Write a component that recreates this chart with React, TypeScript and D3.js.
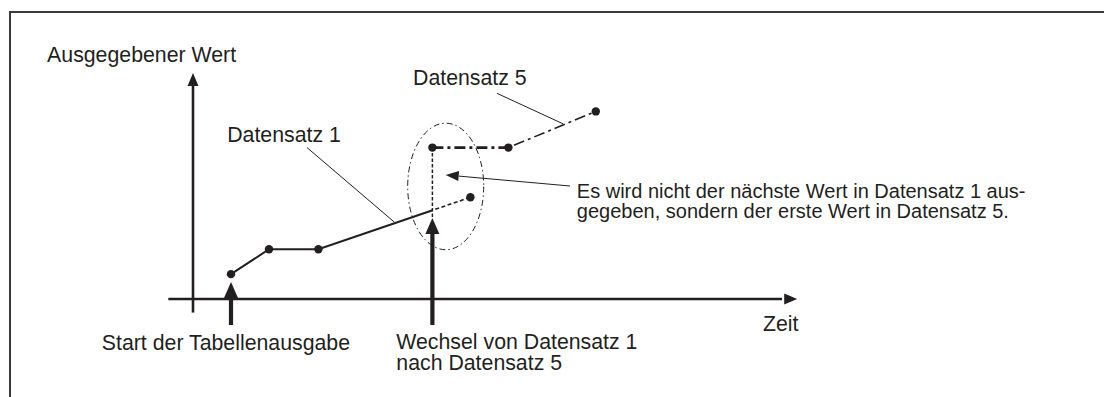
import * as d3 from "d3";
import { useRef, useEffect } from "react";

// Zeitachse (t) und Wertachse (v) in willkürlichen Einheiten
const datensatz1 = [
  { t: 1.0, v: 1.1 },
  { t: 2.0, v: 2.2 },
  { t: 3.3, v: 2.2 },
  { t: 7.3, v: 4.5 },
];
const datensatz5 = [
  { t: 6.3, v: 6.7 },
  { t: 8.3, v: 6.7 },
  { t: 10.6, v: 8.3 },
];
const switchTime = 6.3;
const bigArrows = [
  { t: 1.0, tip: 0.75, base: -1.15 },
  { t: 6.3, tip: 3.58, base: -1.15 },
];
const labels = [
  { text: ["Ausgegebener Wert"], t: -3.84, v: 10.5, size: 21.3 },
  { text: ["Datensatz 1"], t: 0.9, v: 6.95, size: 21.3 },
  { text: ["Datensatz 5"], t: 5.79, v: 9.47, size: 21.3 },
  {
    text: [
      "Es wird nicht der nächste Wert in Datensatz 1 aus-",
      "gegeben, sondern der erste Wert in Datensatz 5.",
    ],
    t: 10.1,
    v: 4.47,
    size: 20,
  },
  { text: ["Zeit"], t: 15.0, v: -1.4, size: 21.3 },
  { text: ["Start der Tabellenausgabe"], t: -2.4, v: -2.25, size: 21.3 },
  { text: ["Wechsel von Datensatz 1", "nach Datensatz 5"], t: 5.35, v: -2.22, size: 21.3 },
];
const leaders = [
  { from: { t: 3.0, v: 6.7 }, to: { t: 5.3, v: 3.4 } },
  { from: { t: 8.0, v: 9.1 }, to: { t: 9.74, v: 7.75 } },
];
const noteArrow = { from: { t: 9.92, v: 5.0 }, to: { t: 6.65, v: 5.49 } };
const ellipse = { t: 6.65, v: 4.98, rt: 1.0, rv: 2.8 };

export default function App() {
  const svgRef = useRef(null);
  const width = 1104;
  const height = 397;

  useEffect(() => {
    const svg = d3.select(svgRef.current);
    svg.selectAll("*").remove();
    const ink = "#231f20";

    const x = d3.scaleLinear().domain([0, 16]).range([193, 801]);
    const y = d3.scaleLinear().domain([0, 10]).range([299, 73]);

    // Rahmen
    svg.append("path")
      .attr("d", `M10,${height} L10,12 L${width},12`)
      .attr("fill", "none")
      .attr("stroke", "#3a3a3a")
      .attr("stroke-width", 2);

    const defs = svg.append("defs");
    defs.append("clipPath").attr("id", "before")
      .append("rect").attr("x", 0).attr("y", 0).attr("width", x(switchTime)).attr("height", height);
    defs.append("clipPath").attr("id", "after")
      .append("rect").attr("x", x(switchTime)).attr("y", 0).attr("width", width).attr("height", height);

    // Achsen
    svg.append("line")
      .attr("x1", x(-0.65)).attr("x2", x(15.5))
      .attr("y1", y(0)).attr("y2", y(0))
      .attr("stroke", ink).attr("stroke-width", 2.6);
    svg.append("path")
      .attr("d", `M${x(15.9)},${y(0)} L${x(15.9) - 13},${y(0) - 5.5} L${x(15.9) - 13},${y(0) + 5.5}Z`)
      .attr("fill", ink);
    svg.append("line")
      .attr("x1", x(0)).attr("x2", x(0))
      .attr("y1", y(-0.6)).attr("y2", y(9.5))
      .attr("stroke", ink).attr("stroke-width", 2.6);
    svg.append("path")
      .attr("d", `M${x(0)},${y(10)} L${x(0) - 5.5},${y(10) + 13} L${x(0) + 5.5},${y(10) + 13}Z`)
      .attr("fill", ink);

    const line = d3.line<any>().x(d => x(d.t)).y(d => y(d.v));

    // Datensatz 1: durchgezogen bis zum Wechsel, danach gestrichelt
    svg.append("path")
      .datum(datensatz1)
      .attr("d", line)
      .attr("clip-path", "url(#before)")
      .attr("fill", "none").attr("stroke", ink).attr("stroke-width", 2);
    svg.append("path")
      .datum(datensatz1.slice(2))
      .attr("d", line)
      .attr("clip-path", "url(#after)")
      .attr("fill", "none").attr("stroke", ink).attr("stroke-width", 1.6)
      .attr("stroke-dasharray", "4,2.5");

    // senkrechter Sprung beim Wechsel
    svg.append("line")
      .attr("x1", x(switchTime)).attr("x2", x(switchTime))
      .attr("y1", y(datensatz5[0].v)).attr("y2", y(3.55))
      .attr("stroke", ink).attr("stroke-width", 1.5)
      .attr("stroke-dasharray", "3.5,2");

    // Datensatz 5: Strichpunkt
    svg.append("path")
      .datum(datensatz5.slice(0, 2))
      .attr("d", line)
      .attr("fill", "none").attr("stroke", ink).attr("stroke-width", 2.6)
      .attr("stroke-dasharray", "11,4,3,4");
    svg.append("path")
      .datum(datensatz5.slice(1))
      .attr("d", line)
      .attr("fill", "none").attr("stroke", ink).attr("stroke-width", 1.6)
      .attr("stroke-dasharray", "11,4,3,4")
      .attr("stroke-dashoffset", -6);

    // Ellipse
    svg.append("ellipse")
      .attr("cx", x(ellipse.t)).attr("cy", y(ellipse.v))
      .attr("rx", x(ellipse.rt) - x(0)).attr("ry", y(0) - y(ellipse.rv))
      .attr("fill", "none").attr("stroke", ink).attr("stroke-width", 1)
      .attr("stroke-dasharray", "6,3,1.5,3");

    // Punkte
    svg.selectAll("circle.pt")
      .data([...datensatz1, ...datensatz5])
      .join("circle")
      .attr("class", "pt")
      .attr("cx", d => x(d.t)).attr("cy", d => y(d.v))
      .attr("r", 4.2)
      .attr("fill", ink);

    // Hinweislinien
    svg.selectAll("line.leader")
      .data(leaders)
      .join("line")
      .attr("class", "leader")
      .attr("x1", d => x(d.from.t)).attr("y1", d => y(d.from.v))
      .attr("x2", d => x(d.to.t)).attr("y2", d => y(d.to.v))
      .attr("stroke", ink).attr("stroke-width", 1);

    // Hinweispfeil
    const ax1 = x(noteArrow.from.t), ay1 = y(noteArrow.from.v);
    const ax2 = x(noteArrow.to.t), ay2 = y(noteArrow.to.v);
    const ang = Math.atan2(ay2 - ay1, ax2 - ax1);
    const hl = 13, hw = 5;
    const bx = ax2 - hl * Math.cos(ang), by = ay2 - hl * Math.sin(ang);
    svg.append("line")
      .attr("x1", ax1).attr("y1", ay1).attr("x2", bx).attr("y2", by)
      .attr("stroke", ink).attr("stroke-width", 1);
    svg.append("path")
      .attr("d", `M${ax2},${ay2} L${bx + hw * Math.sin(ang)},${by - hw * Math.cos(ang)} L${bx - hw * Math.sin(ang)},${by + hw * Math.cos(ang)}Z`)
      .attr("fill", ink);

    // dicke Pfeile von unten
    bigArrows.forEach(a => {
      const cx = x(a.t), tip = y(a.tip), base = y(a.base);
      svg.append("line")
        .attr("x1", cx).attr("x2", cx)
        .attr("y1", base).attr("y2", tip + 12)
        .attr("stroke", ink).attr("stroke-width", 4.2);
      svg.append("path")
        .attr("d", `M${cx},${tip} L${cx - 7},${tip + 16} L${cx + 7},${tip + 16}Z`)
        .attr("fill", ink);
    });

    // Beschriftungen
    labels.forEach(l => {
      const t = svg.append("text")
        .attr("x", x(l.t)).attr("y", y(l.v))
        .attr("fill", ink)
        .style("font-family", "'Liberation Sans', Arial, sans-serif")
        .style("font-size", `${l.size}px`);
      l.text.forEach((s, i) => {
        t.append("tspan").attr("x", x(l.t)).attr("dy", i === 0 ? 0 : Math.round(l.size)).text(s);
      });
    });
  }, []);

  return (
    <svg
      ref={svgRef}
      width={width}
      height={height}
      style={{ position: "absolute", left: 0, top: 0, background: "#fff", display: "block" }}
    ></svg>
  );
}
